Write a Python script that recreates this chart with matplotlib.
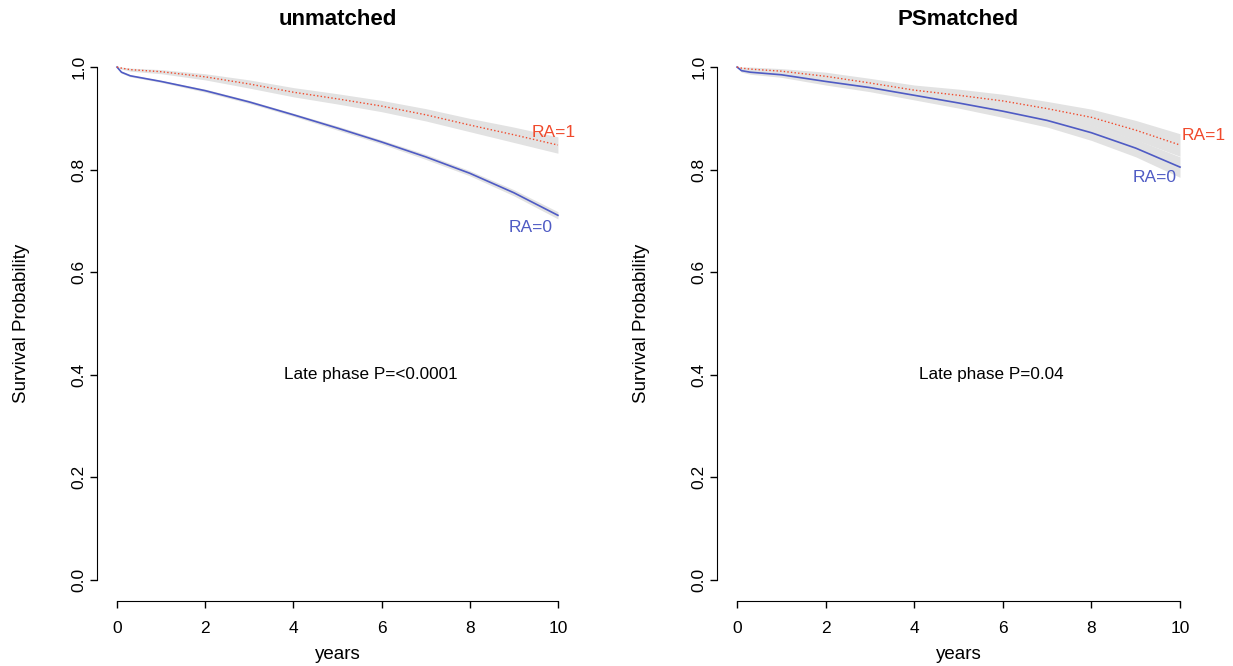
import matplotlib
matplotlib.use("Agg")
import matplotlib.pyplot as plt
import numpy as np

plt.rcParams['font.family'] = ['Liberation Sans', 'DejaVu Sans']
plt.rcParams['font.size'] = 12

years = [0, 0.1, 0.3, 1, 2, 3, 4, 5, 6, 7, 8, 9, 10]

# unmatched cohort
unm_ra0 = [1.0, 0.990, 0.983, 0.972, 0.954, 0.932, 0.907, 0.881, 0.854, 0.825, 0.793, 0.755, 0.711]
unm_ra0_lo = [1.0, 0.988, 0.981, 0.970, 0.951, 0.929, 0.904, 0.877, 0.850, 0.820, 0.788, 0.749, 0.704]
unm_ra0_hi = [1.0, 0.992, 0.985, 0.974, 0.957, 0.935, 0.910, 0.885, 0.858, 0.830, 0.798, 0.761, 0.718]
unm_ra1 = [1.0, 0.998, 0.995, 0.991, 0.981, 0.967, 0.951, 0.938, 0.924, 0.907, 0.887, 0.868, 0.848]
unm_ra1_lo = [1.0, 0.996, 0.992, 0.987, 0.975, 0.959, 0.942, 0.928, 0.913, 0.895, 0.874, 0.853, 0.832]
unm_ra1_hi = [1.0, 1.0, 0.998, 0.995, 0.987, 0.975, 0.960, 0.948, 0.935, 0.919, 0.900, 0.883, 0.864]

# propensity-score matched cohort
ps_ra0 = [1.0, 0.993, 0.990, 0.985, 0.972, 0.960, 0.945, 0.930, 0.914, 0.896, 0.872, 0.842, 0.805]
ps_ra0_lo = [1.0, 0.990, 0.986, 0.980, 0.965, 0.952, 0.936, 0.920, 0.902, 0.883, 0.857, 0.825, 0.785]
ps_ra0_hi = [1.0, 0.996, 0.994, 0.990, 0.979, 0.968, 0.954, 0.940, 0.926, 0.909, 0.887, 0.859, 0.825]
ps_ra1 = [1.0, 0.998, 0.996, 0.992, 0.982, 0.969, 0.955, 0.945, 0.934, 0.919, 0.902, 0.877, 0.848]
ps_ra1_lo = [1.0, 0.995, 0.992, 0.987, 0.974, 0.960, 0.945, 0.933, 0.921, 0.905, 0.886, 0.858, 0.826]
ps_ra1_hi = [1.0, 1.0, 1.0, 0.997, 0.990, 0.978, 0.965, 0.957, 0.947, 0.933, 0.918, 0.896, 0.870]

panels = [
    ("unmatched", unm_ra0, unm_ra0_lo, unm_ra0_hi, unm_ra1, unm_ra1_lo, unm_ra1_hi,
     "Late phase P=<0.0001", (9.9, 0.873), (9.39, 0.688)),
    ("PSmatched", ps_ra0, ps_ra0_lo, ps_ra0_hi, ps_ra1, ps_ra1_lo, ps_ra1_hi,
     "Late phase P=0.04", (10.54, 0.867), (9.43, 0.784)),
]

blue = '#4f5bc4'
red = '#f04a2c'
band = '#e2e2e2'

fig = plt.figure(figsize=(12.33, 6.66), dpi=100)
axes_pos = [[0.0806, 0.0983, 0.3862, 0.8318], [0.5834, 0.0983, 0.3880, 0.8318]]

for pos, (title, r0, r0lo, r0hi, r1, r1lo, r1hi, ptxt, lab1, lab0) in zip(axes_pos, panels):
    ax = fig.add_axes(pos)
    ax.fill_between(years, r1lo, r1hi, color=band, lw=0)
    ax.fill_between(years, r0lo, r0hi, color=band, lw=0)
    ax.plot(years, r0, color=blue, lw=1.2)
    ax.plot(years, r1, color=red, lw=1.0, linestyle=(0, (1, 1.6)))

    ax.text(lab1[0], lab1[1], "RA=1", color=red, ha='center', va='center', fontsize=12.5, clip_on=False)
    ax.text(lab0[0], lab0[1], "RA=0", color=blue, ha='center', va='center', fontsize=12.5, clip_on=False)
    ax.text(5.75, 0.40, ptxt, ha='center', va='center', fontsize=12.3)

    # R base-graphics look: 4% padding, detached axes
    ax.set_xlim(-0.4, 10.4)
    ax.set_ylim(-0.04, 1.04)
    for s in ['top', 'right']:
        ax.spines[s].set_visible(False)
    ax.spines['left'].set_bounds(0, 1)
    ax.spines['bottom'].set_bounds(0, 10)
    ax.spines['left'].set_position(('outward', 2))
    ax.set_xticks([0, 2, 4, 6, 8, 10])
    ax.set_yticks([0.0, 0.2, 0.4, 0.6, 0.8, 1.0])
    ax.set_yticklabels(['0.0', '0.2', '0.4', '0.6', '0.8', '1.0'], rotation=90, va='center')
    ax.tick_params(direction='out', length=5, width=1, labelsize=12.5)
    ax.tick_params(axis='x', pad=10)
    ax.tick_params(axis='y', pad=2.5)
    ax.set_xlabel('years', fontsize=13.5, va='center')
    ax.xaxis.set_label_coords(0.5, -0.098)
    ax.set_ylabel('Survival Probability', fontsize=13.5, va='center')
    ax.yaxis.set_label_coords(-0.163, 0.5)
    ax.text(0.5, 1.048, title, transform=ax.transAxes, ha='center', va='center',
            fontsize=16, fontweight='bold')

fig.savefig('out.png', dpi=100)
